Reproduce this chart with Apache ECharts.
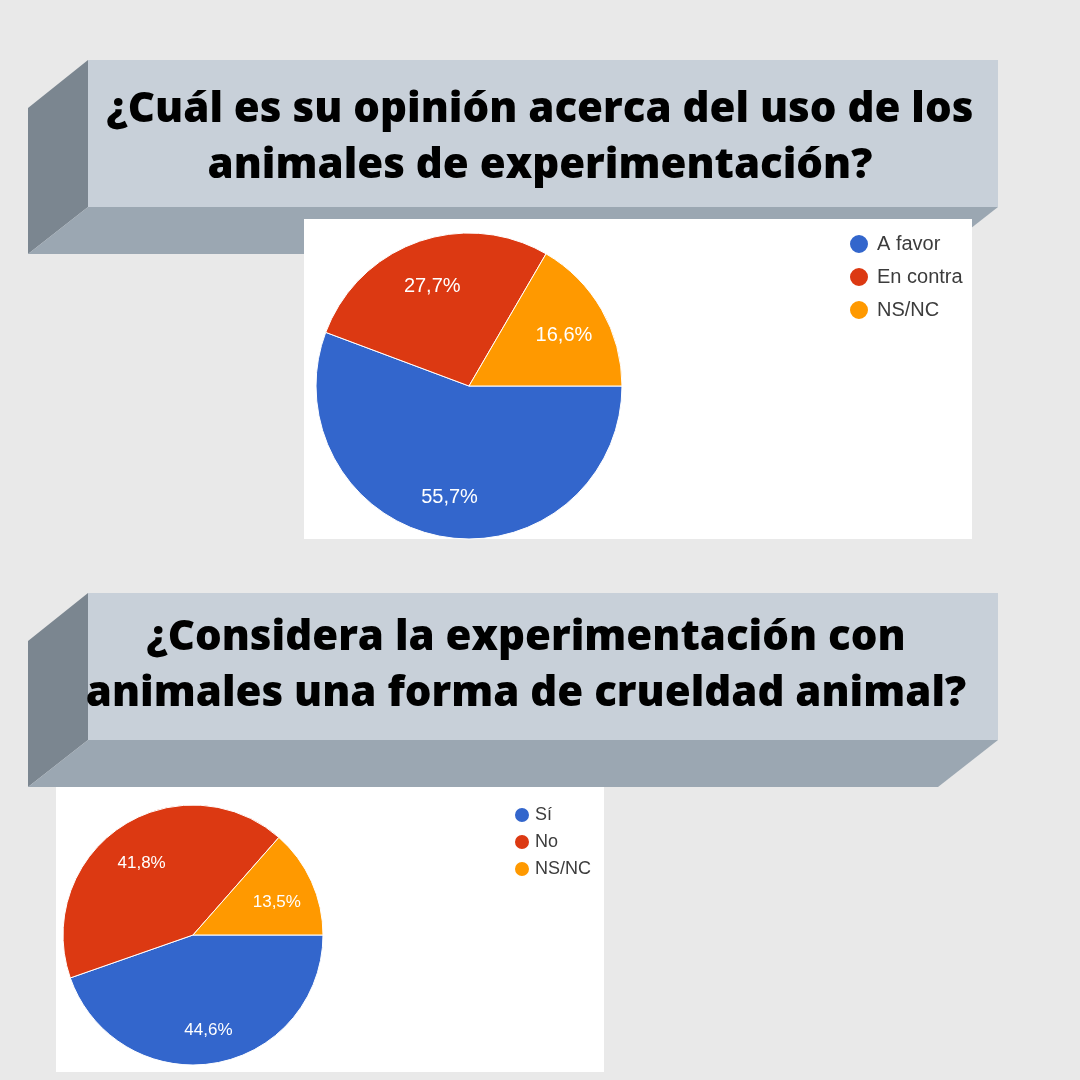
<!DOCTYPE html>
<html>
<head>
<meta charset="utf-8">
<script src="https://cdn.jsdelivr.net/npm/echarts@6/dist/echarts.min.js"></script>
<style>
html, body { margin: 0; padding: 0; background: #e9e9e9; }
#chart { width: 1080px; height: 1080px; }
</style>
</head>
<body>
<div id="chart"></div>
<script>
// pregunta 1
var names1 = ['A favor', 'En contra', 'NS/NC'];
var values1 = [55.7, 27.7, 16.6];
// pregunta 2
var names2 = ['Sí', 'No', 'NS/NC'];
var values2 = [44.6, 41.8, 13.5];

var title1 = ['¿Cuál es su opinión acerca del uso de los', 'animales de experimentación?'];
var title2 = ['¿Considera la experimentación con', 'animales una forma de crueldad animal?'];

var colores = ['#3366cc', '#dc3912', '#ff9900'];

function toData(names, values) {
	var d = [];
	for (var i = 0; i < names.length; i++) {
		d.push({ name: names[i], value: values[i] });
	}
	return d;
}

function pct(p) {
	return p.value.toFixed(1).replace('.', ',') + '%';
}

// caja 3D detras de cada titulo
function banner(top) {
	var h = 147, d = 47;
	return [ {
		type: 'polygon',
		shape: { points: [ [88, top], [28, top + 48], [28, top + h + d], [88, top + h] ] },
		style: { fill: '#7b8690' }
	}, {
		type: 'polygon',
		shape: { points: [ [88, top + h], [998, top + h], [938, top + h + d], [28, top + h + d] ] },
		style: { fill: '#9ba7b2' }
	}, {
		type: 'rect',
		shape: { x: 88, y: top, width: 910, height: h },
		style: { fill: '#c8d0d9' }
	} ];
}

function titleText(lines, cx, y) {
	var out = [];
	for (var i = 0; i < lines.length; i++) {
		out.push({
			type: 'text',
			x: cx,
			y: y + i * 56,
			style: {
				text: lines[i],
				fill: '#000',
				font: '800 42px "Open Sans"',
				align: 'center',
				verticalAlign: 'middle'
			}
		});
	}
	return out;
}

var elements = [].concat(
	banner(60),
	banner(593),
	[ {
		type: 'rect',
		shape: { x: 304, y: 219, width: 668, height: 320 },
		style: { fill: '#ffffff' }
	}, {
		type: 'rect',
		shape: { x: 56, y: 787, width: 548, height: 285 },
		style: { fill: '#ffffff' }
	} ],
	titleText(title1, 540, 110),
	titleText(title2, 526, 638)
);

var chart = echarts.init(document.getElementById('chart'));

var option = {
	backgroundColor: '#e9e9e9',
	color: colores,
	animation: false,
	graphic: { elements: elements },
	legend: [ {
		data: names1,
		orient: 'vertical',
		left: 848,
		top: 233,
		padding: 0,
		icon: 'circle',
		itemWidth: 20,
		itemHeight: 20,
		itemGap: 11,
		textStyle: { fontSize: 20, color: '#3c3c3c', fontFamily: 'Liberation Sans', padding: [0, 0, 0, 3] }
	}, {
		data: names2,
		orient: 'vertical',
		left: 513,
		top: 806,
		padding: 0,
		icon: 'circle',
		itemWidth: 16,
		itemHeight: 16,
		itemGap: 9,
		textStyle: { fontSize: 18, color: '#3c3c3c', fontFamily: 'Liberation Sans' }
	} ],
	series: [ {
		type: 'pie',
		center: [469, 386],
		radius: 153,
		startAngle: 0,
		clockwise: true,
		silent: true,
		label: { show: false },
		itemStyle: { borderColor: '#ffffff', borderWidth: 1 },
		data: toData(names1, values1)
	}, {
		type: 'pie',
		center: [193, 935],
		radius: 130,
		startAngle: 0,
		clockwise: true,
		silent: true,
		label: { show: false },
		itemStyle: { borderColor: '#ffffff', borderWidth: 1 },
		data: toData(names2, values2)
	}, {
		// anillo transparente solo para poner las etiquetas a 0.7 del radio
		type: 'pie',
		center: [469, 386],
		radius: [60, 153],
		startAngle: 0,
		clockwise: true,
		silent: true,
		itemStyle: { color: 'rgba(0,0,0,0)' },
		label: { show: true, position: 'inside', formatter: pct, color: '#ffffff', fontSize: 20, fontFamily: 'Liberation Sans', offset: [0, 4] },
		data: toData(names1, values1)
	}, {
		type: 'pie',
		center: [193, 935],
		radius: [48, 130],
		startAngle: 0,
		clockwise: true,
		silent: true,
		itemStyle: { color: 'rgba(0,0,0,0)' },
		label: { show: true, position: 'inside', formatter: pct, color: '#ffffff', fontSize: 17, fontFamily: 'Liberation Sans', offset: [0, 5] },
		data: toData(names2, values2)
	} ]
};

chart.setOption(option);
</script>
</body>
</html>
